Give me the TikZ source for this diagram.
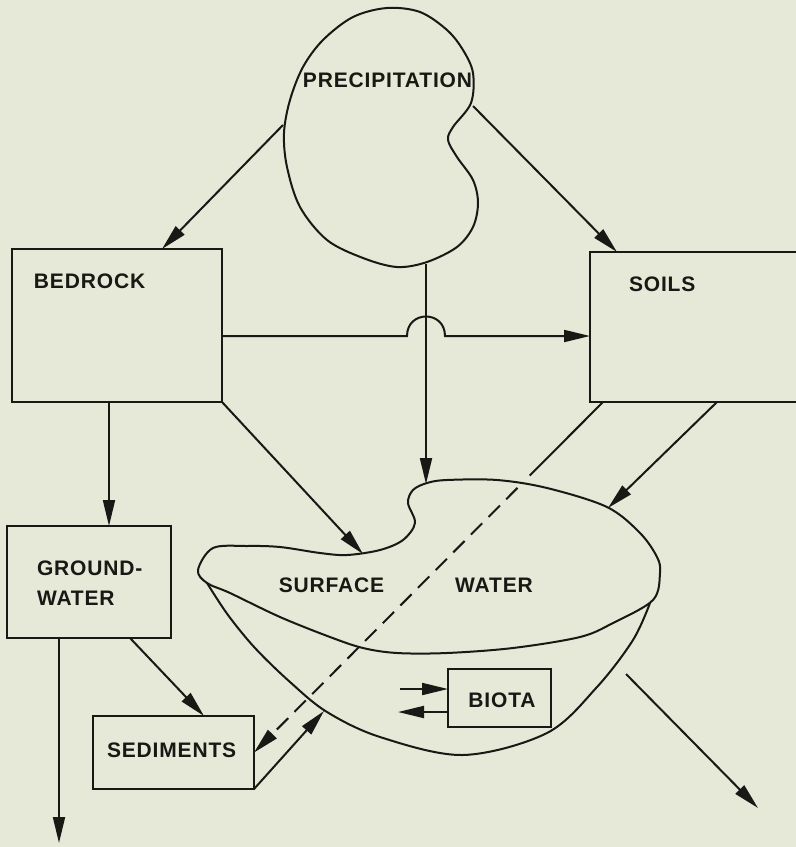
\documentclass[tikz,border=0pt]{standalone}
\usepackage{fontspec}
\setmainfont{Liberation Sans}
\newfontfamily\labfont[LetterSpace=4,UprightFont={* Bold}]{Liberation Sans}
\usetikzlibrary{arrows.meta,calc}
\definecolor{paper}{RGB}{230,232,216}
\definecolor{ink}{RGB}{24,24,20}
\begin{document}
\begin{tikzpicture}[x=1pt,y=-1pt,line width=2pt,draw=ink,
  box/.style={draw=ink,rectangle,inner sep=0pt,outer sep=0pt},
  flow/.style={-{Triangle[length=26pt,width=12pt]}},
  lbl/.style={text=ink,inner sep=0pt,font=\labfont\fontsize{21}{30}\selectfont},
  dashline/.style={dash pattern=on 16pt off 9pt}]
\fill[paper] (0,0) rectangle (796,847);
\useasboundingbox (0,0) rectangle (796,847);

% boxes
\node[box,minimum width=210pt,minimum height=153pt] (bedrock) at (117,325.5) {};
\node[box,minimum width=215pt,minimum height=150pt] (soils) at (697.5,327) {};
\node[box,minimum width=164pt,minimum height=112pt] (ground) at (89,582) {};
\node[box,minimum width=161pt,minimum height=73pt] (sed) at (173.5,752.5) {};
\node[box,minimum width=103pt,minimum height=58pt] (biota) at (499.5,698) {};

% labels
\node[lbl,anchor=west] (bedrocktxt) at (33,281) {BEDROCK};
\node[lbl,anchor=west] (soilstxt) at (628,284) {SOILS};
\node[lbl,anchor=west,align=left] (groundtxt) at (36,583) {GROUND-\\WATER};
\node[lbl,anchor=west] (sedtxt) at (106,750) {SEDIMENTS};
\node[lbl] (biotatxt) at (502,700) {BIOTA};
\node[lbl] (surftxt) at (331.5,585) {SURFACE};
\node[lbl] (watertxt) at (494,585) {WATER};
\node[lbl] (preciptxt) at (387.5,80) {PRECIPITATION};

% precipitation blob
\draw plot[smooth cycle,tension=0.55] coordinates {
 (387,8) (420,12) (447,30) (463,50) (473,73) (471,103) (453,127) (448,140)
 (457,157) (473,180) (478,203) (473,227) (457,247) (427,262) (397,267)
 (363,258) (327,240) (300,207) (287,167) (284,133) (290,100) (303,67)
 (323,40) (353,17)};

% surface water blob
\draw plot[smooth cycle,tension=0.55] coordinates {
 (198,570) (213,548) (247,546) (280,547) (320,553) (347,555) (380,550)
 (403,540) (415,523) (408,503) (413,490) (427,483) (447,480) (497,480)
 (547,488) (607,507) (640,533) (657,557) (660,573) (653,600) (613,623)
 (580,637) (513,648) (447,653) (397,653) (363,648) (330,637) (280,617)
 (230,593) (207,583)};
% bowl
\draw plot[smooth,tension=0.55] coordinates {
 (207,583) (228,615) (255,648) (290,682) (327,712) (380,737) (463,755)
 (547,733) (597,687) (633,640) (650,603)};

% anchor coordinates on the blobs
\coordinate (p1) at (283,125);
\coordinate (p2) at (473,106);
\coordinate (p3) at (426,264);
\coordinate (swtop) at (426,484);
\coordinate (swleft) at (363,554);
\coordinate (swright) at (608,508);
\coordinate (bowlin) at (324,711);
\coordinate (gout) at (59,843);
\coordinate (bin) at (400,689);
\coordinate (bout) at (398,712);
\coordinate (swo1) at (626,674);
\coordinate (swo2) at (758,808);
\coordinate (hopa) at (407,336);
\coordinate (hopb) at (445,336);

% connectors
\draw[flow] (p1) -- ($(bedrock.north west)+(150,0)$);
\draw[flow] (p2) -- ($(soils.north west)+(27,0)$);
\draw[flow] ($(bedrock.east)+(0,10.5)$) -- (hopa)
  .. controls (407,310) and (445,310) .. (hopb) -- ($(soils.west)+(0,9)$);
\draw[flow] (p3) -- (swtop);
\draw[flow] ($(bedrock.south west)+(97,0)$) -- ($(ground.north west)+(102,0)$);
\draw[flow] (bedrock.south east) -- (swleft);
\draw[flow] ($(ground.south west)+(52,0)$) -- (gout);
\draw[flow] ($(ground.south west)+(123,0)$) -- ($(sed.north west)+(111,0)$);
\coordinate (dA) at ($(soils.south west)+(13,0)$);
\coordinate (dB) at (sed.east);
\draw (dA) -- ($(dA)!0.21!(dB)$);
\draw[flow,dashline] ($(dA)!0.245!(dB)$) -- (dB);
\draw[flow] (sed.south east) -- (bowlin);
\draw[flow] ($(soils.south west)+(127,0)$) -- (swright);
\draw[flow] (bin) -- ($(biota.west)+(0,-9)$);
\draw[flow] ($(biota.west)+(0,14)$) -- (bout);
\draw[flow] (swo1) -- (swo2);
\end{tikzpicture}
\end{document}
